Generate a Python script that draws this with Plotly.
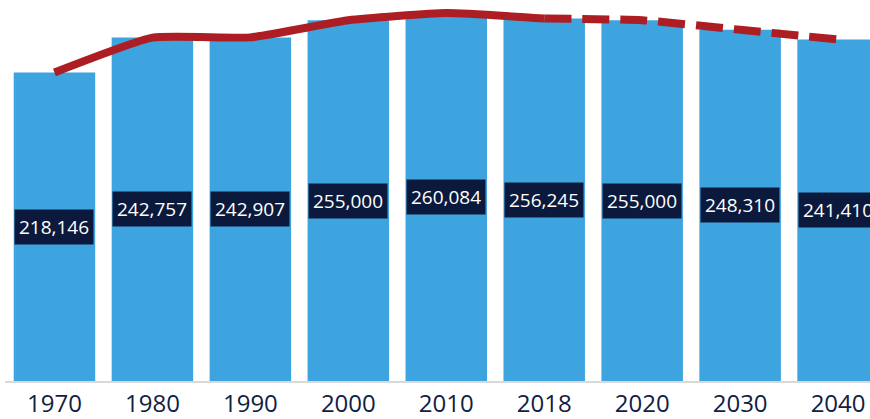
import plotly.graph_objects as go

# Population by census year (2030 and 2040 are projections)
years = ["1970", "1980", "1990", "2000", "2010", "2018", "2020", "2030", "2040"]
population = [218146, 242757, 242907, 255000, 260084, 256245, 255000, 248310, 241410]

# Trend line: observed through 2018, projected afterwards
observed_years = years[:6]
observed_pop = population[:6]
projected_years = years[5:]
projected_pop = population[5:]

BAR_BLUE = "#3ea4e0"
LINE_RED = "#ad1e24"
LABEL_NAVY = "#0b1a3c"
TEXT_NAVY = "#13203f"
FONT = "Open Sans"

fig = go.Figure()

fig.add_trace(go.Bar(
    x=years,
    y=population,
    marker=dict(color=BAR_BLUE, line=dict(width=0)),
    hoverinfo="skip",
))

fig.add_trace(go.Scatter(
    x=observed_years,
    y=observed_pop,
    mode="lines",
    line=dict(color=LINE_RED, width=8, shape="spline", smoothing=0.45),
    hoverinfo="skip",
))

fig.add_trace(go.Scatter(
    x=projected_years,
    y=projected_pop,
    mode="lines",
    line=dict(color=LINE_RED, width=8, shape="spline", smoothing=0.45,
              dash="27px,11px"),
    hoverinfo="skip",
))

# Value labels centred in each bar on a dark box (x given as category index)
for i, val in enumerate(population):
    fig.add_annotation(
        x=i,
        y=val / 2,
        xref="x",
        yref="y",
        text=f"{val:,}",
        showarrow=False,
        font=dict(family=FONT, size=19, color="white"),
        bgcolor=LABEL_NAVY,
        borderpad=4,
        xanchor="center",
        yanchor="middle",
    )

fig.update_layout(
    width=870,
    height=419,
    margin=dict(l=5, r=0, t=0, b=35),
    paper_bgcolor="white",
    plot_bgcolor="white",
    showlegend=False,
    bargap=0.168,
    font=dict(family=FONT, color=TEXT_NAVY),
)

fig.update_xaxes(
    type="category",
    range=[-0.505, 8.326],
    showgrid=False,
    showline=True,
    linecolor="#d9d9d9",
    linewidth=2,
    ticks="",
    tickfont=dict(family=FONT, size=24, color=TEXT_NAVY),
    fixedrange=True,
)

fig.update_yaxes(
    range=[0, 269340],
    showgrid=False,
    showticklabels=False,
    zeroline=False,
    showline=False,
    fixedrange=True,
)

fig.write_html("out.html", config={"displayModeBar": False})
